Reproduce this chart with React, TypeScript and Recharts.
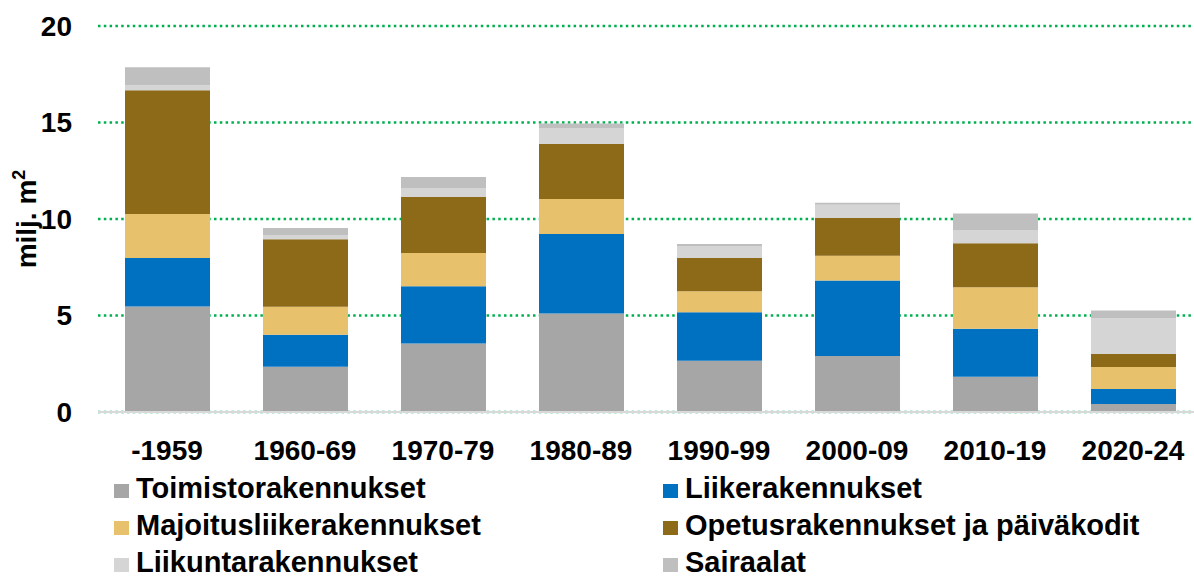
import React from 'react';
import { BarChart, Bar, XAxis, YAxis, CartesianGrid, Legend } from 'recharts';

const categories = ['-1959', '1960-69', '1970-79', '1980-89', '1990-99', '2000-09', '2010-19', '2020-24'];
const toimisto = [5.47, 2.34, 3.55, 5.10, 2.66, 2.90, 1.83, 0.41];
const liike = [2.51, 1.66, 2.97, 4.12, 2.51, 3.91, 2.48, 0.78];
const majoitus = [2.28, 1.45, 1.72, 1.81, 1.09, 1.29, 2.16, 1.14];
const opetus = [6.41, 3.50, 2.90, 2.85, 1.72, 1.95, 2.27, 0.67];
const liikunta = [0.26, 0.22, 0.46, 0.84, 0.62, 0.69, 0.66, 1.84];
const sairaalat = [0.93, 0.36, 0.57, 0.23, 0.11, 0.10, 0.89, 0.42];
const yTicks = [0, 5, 10, 15, 20];

const seriesNames = [
  'Toimistorakennukset',
  'Liikerakennukset',
  'Majoitusliikerakennukset',
  'Opetusrakennukset ja päiväkodit',
  'Liikuntarakennukset',
  'Sairaalat',
];
const seriesValues = [toimisto, liike, majoitus, opetus, liikunta, sairaalat];
const seriesColors = ['#a6a6a6', '#0070c0', '#e7c16c', '#8c6a18', '#d5d5d5', '#bfbfbf'];
const seriesKeys = ['s0', 's1', 's2', 's3', 's4', 's5'];

const data = categories.map((c, i) => {
  const row: Record<string, string | number> = { cat: c };
  seriesKeys.forEach((k, j) => {
    row[k] = seriesValues[j][i];
  });
  return row;
});

const FONT = '"Liberation Sans", Arial, sans-serif';

const LegendContent = () => {
  const colX = [114, 663];
  const baselines = [28, 65, 102];
  return (
    <svg width={1202} height={106} style={{ display: 'block' }}>
      {seriesNames.map((name, i) => {
        const col = i % 2;
        const row = Math.floor(i / 2);
        const x = colX[col];
        const b = baselines[row];
        return (
          <g key={name}>
            <rect x={x} y={b - 14} width={15} height={14} fill={seriesColors[i]} />
            <text x={x + 22} y={b} fontFamily={FONT} fontWeight="bold" fontSize={29} fill="#000">
              {name}
            </text>
          </g>
        );
      })}
    </svg>
  );
};

const YLabel = (props: any) => {
  const vb = props.viewBox || { x: 0, y: 26, width: 98, height: 386 };
  const cy = vb.y + vb.height / 2;
  const x = 36;
  return (
    <text
      x={x}
      y={cy}
      transform={`rotate(-90, ${x}, ${cy})`}
      textAnchor="middle"
      fontFamily={FONT}
      fontWeight="bold"
      fontSize={28}
      fill="#000"
    >
      milj. m
      <tspan fontSize={18} dy={-11}>2</tspan>
    </text>
  );
};

export default function App() {
  return (
    <div style={{ width: 1194, height: 576, overflow: 'hidden', position: 'relative' }}>
      <style>{`body{margin:0;overflow:hidden;}`}</style>
      <BarChart
        width={1202}
        height={576}
        data={data}
        margin={{ top: 26, right: 0, left: 0, bottom: 0 }}
        barSize={85}
      >
        <CartesianGrid
          horizontal={true}
          vertical={false}
          stroke="#00b050"
          strokeWidth={2.5}
          strokeDasharray="2.5 3.3"
        />
        <XAxis
          dataKey="cat"
          height={58}
          tickLine={false}
          tickSize={0}
          tickMargin={28}
          axisLine={{ stroke: '#d9d9d9', strokeWidth: 2 }}
          tick={{ fontFamily: FONT, fontWeight: 'bold', fontSize: 28, fill: '#000' }}
          interval={0}
        />
        <YAxis
          width={98}
          domain={[0, 20]}
          ticks={yTicks}
          axisLine={false}
          tickLine={false}
          tickSize={0}
          tickMargin={26}
          tick={{ fontFamily: FONT, fontWeight: 'bold', fontSize: 28, fill: '#000' }}
          label={<YLabel />}
        />
        <Legend
          verticalAlign="bottom"
          align="left"
          height={106}
          wrapperStyle={{ left: 0, width: 1202, height: 106 }}
          content={<LegendContent />}
        />
        {seriesKeys.map((k, i) => (
          <Bar
            key={k}
            dataKey={k}
            name={seriesNames[i]}
            stackId="a"
            fill={seriesColors[i]}
            isAnimationActive={false}
          />
        ))}
      </BarChart>
    </div>
  );
}
